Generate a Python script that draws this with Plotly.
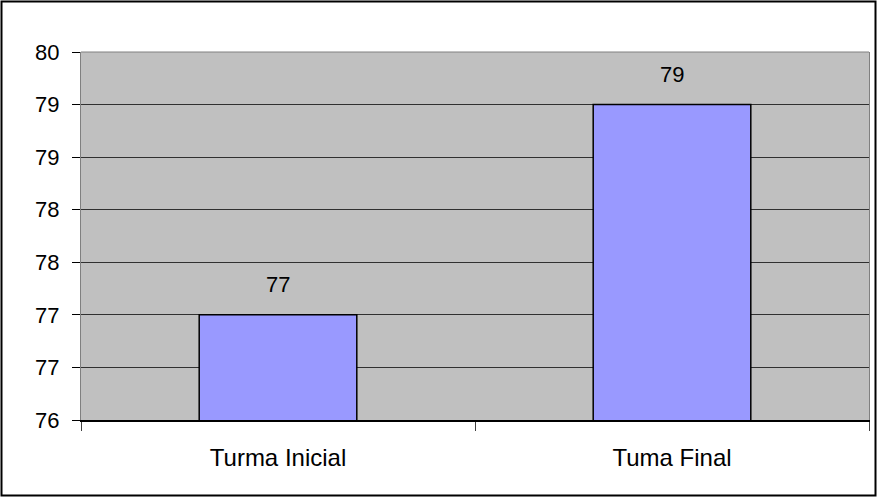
import plotly.graph_objects as go

categories = ["Turma Inicial", "Tuma Final"]
values = [77, 79]
bar_labels = ["77", "79"]
y_tickvals = [76, 76.5, 77, 77.5, 78, 78.5, 79, 79.5]
y_ticktext = ["76", "77", "77", "78", "78", "79", "79", "80"]

W, H = 877, 497
ml, mr, mt, mb = 81, 8, 52, 77
pw, ph = W - ml - mr, H - mt - mb

font = dict(family="Liberation Sans, Arial, sans-serif", size=22, color="black")
xfont = dict(family="Liberation Sans, Arial, sans-serif", size=24, color="black")

fig = go.Figure()
fig.add_trace(go.Bar(
    x=categories, y=values,
    marker=dict(color="#9999FF", line=dict(color="black", width=1.5)),
    hoverinfo="skip",
))

for c, v, t in zip(categories, values, bar_labels):
    fig.add_annotation(x=c, y=v, text=t, showarrow=False, yanchor="middle",
                       yshift=30, font=font)

# top border of plot area
fig.add_shape(type="line", xref="paper", yref="paper", x0=0, x1=1, y0=1, y1=1,
              line=dict(color="#808080", width=1), layer="above")

# outer border of the chart
fig.add_shape(type="rect", xref="paper", yref="paper",
              x0=-(ml - 1.5) / pw, x1=1 + (mr - 1.5) / pw,
              y0=-(mb - 1.5) / ph, y1=1 + (mt - 1.5) / ph,
              line=dict(color="black", width=2), layer="above")

fig.update_layout(
    width=W, height=H,
    margin=dict(l=ml, r=mr, t=mt, b=mb),
    paper_bgcolor="white", plot_bgcolor="#C0C0C0",
    bargap=0.6, showlegend=False, font=font,
    xaxis=dict(type="category", tickson="boundaries", ticks="outside", ticklen=9,
               tickcolor="#404040", showgrid=False, showline=True, linecolor="black",
               linewidth=1.5, ticklabelstandoff=15, tickfont=xfont, zeroline=False),
    yaxis=dict(range=[76, 79.5], tickvals=y_tickvals, ticktext=y_ticktext,
               ticks="outside", ticklen=8, tickcolor="black", showgrid=True,
               gridcolor="#303030", gridwidth=1, showline=True, linecolor="#808080",
               linewidth=1, mirror=True, zeroline=False, ticklabelstandoff=8,
               tickfont=font),
)

fig.write_html("out.html")
